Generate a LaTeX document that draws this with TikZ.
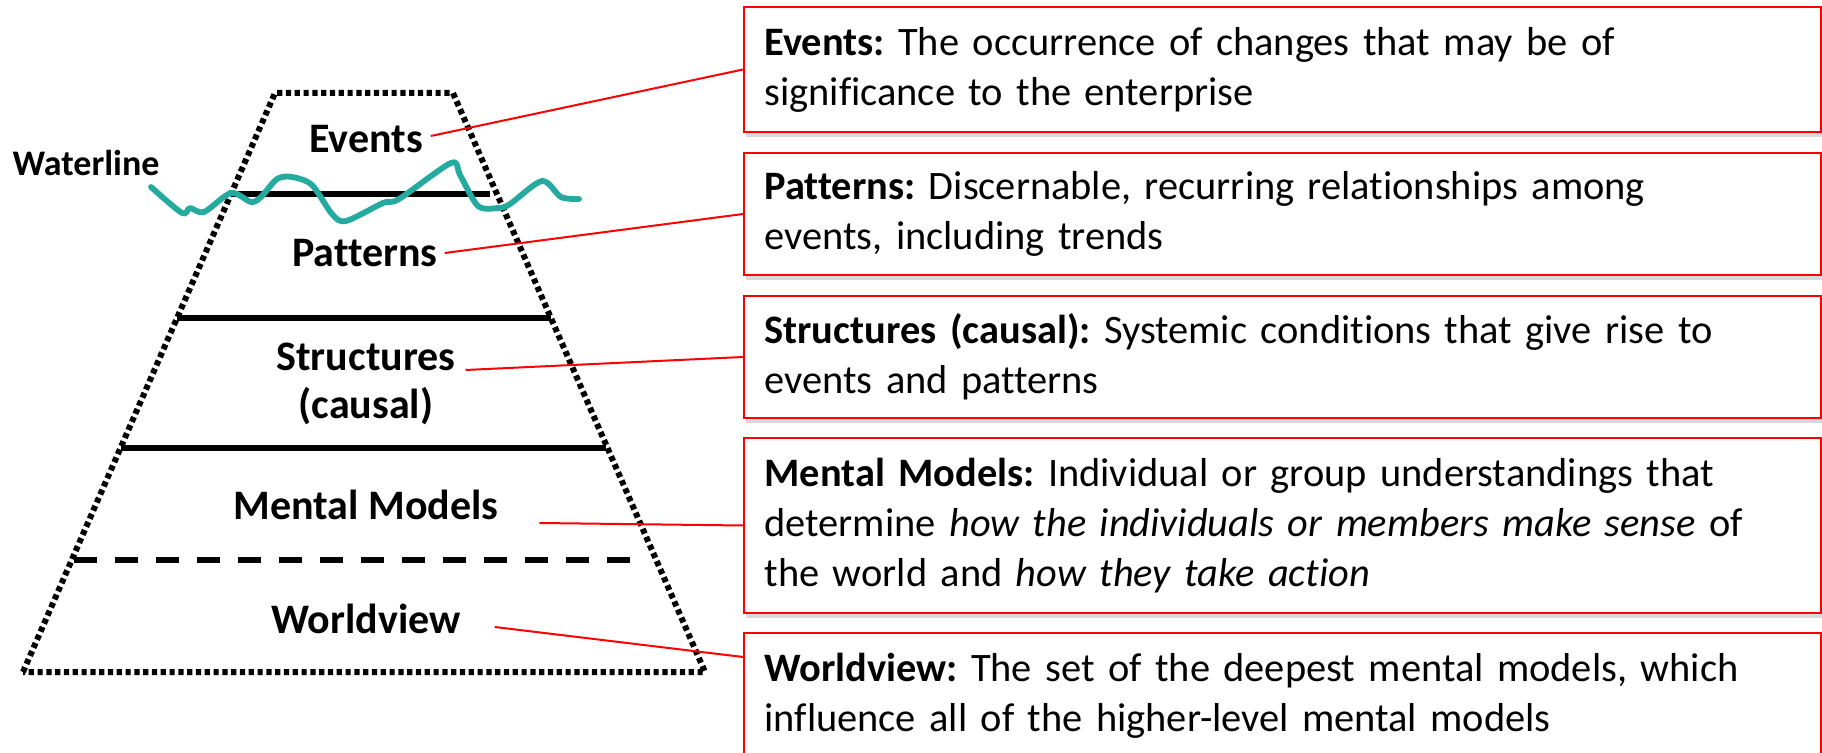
\documentclass[tikz,border=0pt]{standalone}
\usepackage{fontspec}
\setmainfont{Carlito}[Ligatures = NoCommon]
\usepackage{xcolor}
\usepackage{tikz}
\usetikzlibrary{positioning, shadows}
\definecolor{waterteal}{RGB}{36,170,158}
\frenchspacing
\tikzset{
edge line/.style = { draw = black, line width = 3pt, dash pattern = on 2.6pt off 1.8pt },
level line/.style = { draw = black, line width = 3pt },
deep line/.style = { draw = black, line width = 3.2pt, dash pattern = on 11.5pt off 9pt },
water/.style = { draw = waterteal, line width = 2.9pt, line join = round, line cap = round },
level label/.style = { font = \fontsize{21}{24}\selectfont\bfseries, align = center },
desc box/.style = { rectangle, draw = red, line width = 1pt, fill = white, anchor = north west, align = left, text width = 518pt, minimum width = 538.5pt, inner xsep = 10pt, font = \fontsize{20.2}{25}\selectfont, drop shadow = {shadow xshift=1pt,shadow yshift=-2.5pt,opacity=0.3} },
link/.style = { draw = red, line width = 1pt },
}

\begin{document}
\begin{tikzpicture}[x = 0.5pt, y = -0.5pt]
    \clip (0, 0) rectangle (1822, 753);
    % iceberg and its levels
    \draw[edge line] (23, 672) -- (275, 93) -- (453, 93) -- (705, 672) -- cycle;
    \draw[level line] (231, 194) -- (490, 194);
    \draw[level line] (177, 318) -- (551, 318);
    \draw[level line] (121, 448) -- (606, 448);
    \draw[deep line] (74, 560) -- (646, 560);
    \draw[water] plot[smooth, tension = 0.5] coordinates {
        (151, 187) (182, 213) (190, 208) (204, 212) (231, 193) (251, 202) (261, 197)
        (277, 179) (292, 177) (312, 185) (332, 214) (346, 221) (383, 203) (399, 199)
        (451, 163) (460, 175) (478, 206) (498, 208) (510, 204) (542, 181) (561, 197) (579, 199)};

    \node[font = \fontsize{18}{22}\selectfont\bfseries] (water) at (86, 163) {Waterline};
    \node[level label] (ev) at (366, 139) {Events};
    \node[level label] (pat) at (365, 253) {Patterns};
    \node[level label] (str) at (366, 384) {Structures\\(causal)};
    \node[level label] (mm) at (366, 505) {Mental Models};
    \node[level label] (wv) at (366, 619) {Worldview};

    \node[desc box, minimum height = 62.5pt] (ev-box) at (743, 6)
        {\textbf{Events:} The occurrence of changes that may be of\\significance to the enterprise};
    \node[desc box, minimum height = 61pt] (pat-box) at (743, 152)
        {\textbf{Patterns:} Discernable, recurring relationships among\\events, including trends};
    \node[desc box, minimum height = 61pt] (str-box) at (743, 295)
        {\textbf{Structures (causal):} Systemic conditions that give rise to\\events and patterns};
    \node[desc box, minimum height = 87.5pt] (mm-box) at (743, 437)
        {\textbf{Mental Models:} Individual or group understandings that\\determine \textit{how the individuals or members make sense} of\\the world and \textit{how they take action}};
    \node[desc box, minimum height = 62.5pt] (wv-box) at (743, 632)
        {\textbf{Worldview:} The set of the deepest mental models, which\\influence all of the higher-level mental models};

    \draw[link] ([shift = {(1, -3)}]ev.east) -- (ev-box.west);
    \draw[link] (pat.east) -- (pat-box.west);
    \draw[link] ([shift = {(3, -14)}]str.east) -- (str-box.west);
    \draw[link] ([shift = {(34, 18)}]mm.east) -- (mm-box.west);
    \draw[link] ([shift = {(27, 8)}]wv.east) -- ([yshift = -12.5pt]wv-box.north west);
\end{tikzpicture}
\end{document}
